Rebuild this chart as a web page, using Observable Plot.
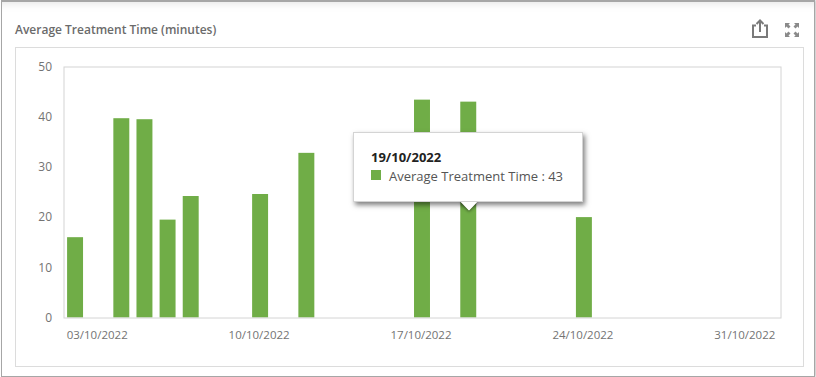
<!DOCTYPE html>
<html>
<head>
<meta charset="utf-8">
<script src="https://cdn.jsdelivr.net/npm/d3@7"></script>
<script src="https://cdn.jsdelivr.net/npm/@observablehq/plot@0.6"></script>
<style>
html,body{margin:0;padding:0;background:#fff;width:816px;height:377px;overflow:hidden;font-family:"Open Sans",sans-serif}
#page{position:relative;width:816px;height:377px;overflow:hidden}
#outer{position:absolute;left:1px;top:0;width:812px;height:374px;border:1px solid #a6a6a6;border-top:2px solid #a6a6a6;box-sizing:content-box;box-shadow:inset 0 10px 8px -8px #e6e6e6, 2px 0 3px #ccc}
#card{position:absolute;left:15px;top:47px;width:787px;height:318px;border:1px solid #dcdcdc}
#title{position:absolute;left:15px;top:21px;font-size:12px;font-weight:600;color:#6b6b6b;line-height:17px;white-space:nowrap}
#chart{position:absolute;left:0;top:0}
#tip{position:absolute;left:353px;top:132px;width:230px;height:70px;background:#fff;border:1px solid #d4d4d4;box-sizing:border-box;box-shadow:2px 3px 5px rgba(0,0,0,.5)}
#tipd{position:absolute;left:17px;top:15px;font-size:13px;font-weight:700;color:#222;line-height:18px}
#tipl{position:absolute;left:35px;top:34px;font-size:13px;color:#555;line-height:18px;white-space:nowrap}
#tips{position:absolute;left:17px;top:37px;width:10px;height:10px;background:#70ad47}
.arrow{position:absolute;left:462.5px;top:196px;width:12px;height:12px;background:#fff;transform:rotate(45deg)}
#a1{box-shadow:1px 1px 3px rgba(0,0,0,.4)}
#a2{clip-path:polygon(100% 0,100% 100%,0 100%)}
.ic{position:absolute}
</style>
</head>
<body>
<div id="page">
<div id="outer"></div>
<div id="card"></div>
<div id="title">Average Treatment Time (minutes)</div>
<svg class="ic" style="left:750px;top:18px" width="20" height="22" viewBox="0 0 20 22" fill="none" stroke="#7a7a7a" stroke-width="2">
<path d="M6 7.5H3V19H17V7.5H14"/><path d="M10 14V3M6.5 6L10 2.5L13.5 6"/></svg>
<svg class="ic" style="left:784px;top:22px" width="16" height="16" viewBox="0 0 16 16" fill="#8a8a8a">
<path d="M1 1H6L4.5 2.5L6.5 4.5L4.5 6.5L2.5 4.5L1 6Z"/><path d="M15 1H10L11.5 2.5L9.5 4.5L11.5 6.5L13.5 4.5L15 6Z"/>
<path d="M1 15H6L4.5 13.5L6.5 11.5L4.5 9.5L2.5 11.5L1 10Z"/><path d="M15 15H10L11.5 13.5L9.5 11.5L11.5 9.5L13.5 11.5L15 10Z"/></svg>
<div id="chart"></div>
<div class="arrow" id="a1"></div>
<div id="tip"><div id="tipd"></div><div id="tips"></div><div id="tipl"></div></div>
<div class="arrow" id="a2"></div>
</div>
<script>
const titleText = "Average Treatment Time (minutes)";
const dayDomain = ["02/10/2022","03/10/2022","04/10/2022","05/10/2022","06/10/2022","07/10/2022","08/10/2022","09/10/2022","10/10/2022","11/10/2022","12/10/2022","13/10/2022","14/10/2022","15/10/2022","16/10/2022","17/10/2022","18/10/2022","19/10/2022","20/10/2022","21/10/2022","22/10/2022","23/10/2022","24/10/2022","25/10/2022","26/10/2022","27/10/2022","28/10/2022","29/10/2022","30/10/2022","31/10/2022","01/11/2022"];
const barDays = ["02/10/2022","04/10/2022","05/10/2022","06/10/2022","07/10/2022","10/10/2022","12/10/2022","17/10/2022","19/10/2022","24/10/2022"];
const barValues = [16,39.7,39.5,19.5,24.2,24.6,32.8,43.4,43,20];
const xTicks = ["03/10/2022","10/10/2022","17/10/2022","24/10/2022","31/10/2022"];
const yTicks = [0,10,20,30,40,50];
const barColor = "#70ad47";
const tipDate = "19/10/2022";
const tipValue = 43;

const rows = barDays.map((d,i)=>({day:d,value:barValues[i]}));
const chart = Plot.plot({
  width:816,height:377,
  marginLeft:63.5,marginRight:35.5,marginTop:66.5,marginBottom:59.5,
  style:{fontFamily:'"Open Sans",sans-serif',background:"transparent",fontSize:"12px",overflow:"visible"},
  x:{type:"band",domain:dayDomain,round:false,paddingInner:0.31,paddingOuter:0.155,label:null},
  y:{domain:[0,50],label:null},
  marks:[
    Plot.barY(rows,{x:"day",y:"value",fill:barColor}),
    Plot.frame({stroke:"#d4d4d4",strokeOpacity:1}),
    Plot.axisX({ticks:xTicks,tickSize:0,tickPadding:13,dx:-1.5,label:null,color:"#737373",fontSize:11.5}),
    Plot.axisY({ticks:yTicks,tickSize:0,tickPadding:12,label:null,color:"#737373",fontSize:12})
  ]
});
document.getElementById("chart").append(chart);
document.getElementById("tipd").textContent = tipDate;
document.getElementById("tipl").textContent = titleText.replace(" (minutes)","") + " : " + tipValue;
</script>
</body>
</html>
